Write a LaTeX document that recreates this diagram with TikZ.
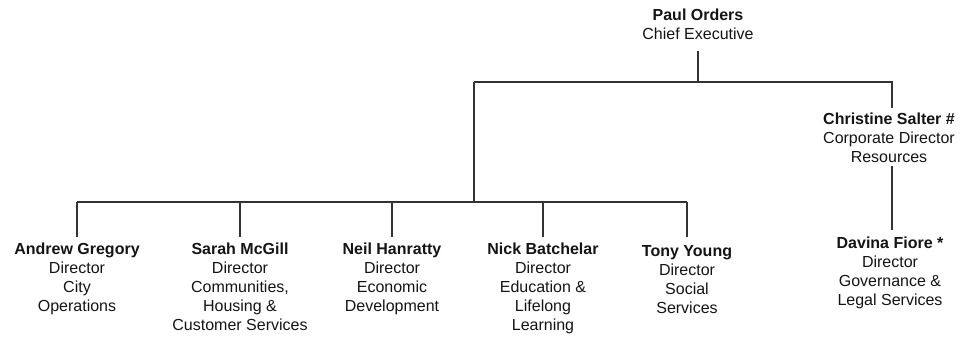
\documentclass[tikz,border=0pt]{standalone}
\usepackage{fontspec}
\setmainfont{Liberation Sans}
\begin{document}
\begin{tikzpicture}[x=1pt,y=-1pt,
  person/.style={anchor=north,inner sep=0pt,align=center,text=black!92,
    font=\fontsize{16}{19}\selectfont},
  link/.style={draw=black!80,line width=1.2pt}]
\useasboundingbox (0,0) rectangle (963,337);
% nodes
\node[person] (p) at (698,9) {\textbf{Paul Orders}\\Chief Executive};
\node[person] (c) at (889,113) {\textbf{Christine Salter \#}\\Corporate Director\\Resources};
\node[person] (d) at (890,237) {\textbf{Davina Fiore *}\\Director\\Governance \&\\Legal Services};
\node[person] (a1) at (77,243) {\textbf{Andrew Gregory}\\Director\\City\\Operations};
\node[person] (a2) at (240,243) {\textbf{Sarah McGill}\\Director\\Communities,\\Housing \&\\Customer Services};
\node[person] (a3) at (392,243) {\textbf{Neil Hanratty}\\Director\\Economic\\Development};
\node[person] (a4) at (543,243) {\textbf{Nick Batchelar}\\Director\\Education \&\\Lifelong\\Learning};
\node[person] (a5) at (687,245) {\textbf{Tony Young}\\Director\\Social\\Services};
% junctions
\coordinate (j1) at (698,82);
\coordinate (jl) at (474,82);
\coordinate (jr) at (892,82);
\coordinate (jb) at (474,202);
\coordinate (b1) at (77,202);
\coordinate (b5) at (687,202);
% connectors
\draw[link,shorten <=10.5pt] (p.south) -- (j1);
\draw[link] (jl) -- (jr) -- ([yshift=5pt]jr |- c.north);
\draw[link] (jl) -- (jb);
\draw[link] (b1) -- (b5);
\foreach \n in {a1,a2,a3,a4}{
  \draw[link,shorten >=6pt] (\n.north |- jb) -- (\n.north);
}
\draw[link,shorten >=8pt] (a5.north |- jb) -- (a5.north);
\draw[link] ([yshift=-2.5pt]jr |- c.south) -- ([yshift=7pt]jr |- d.north);
\end{tikzpicture}
\end{document}
